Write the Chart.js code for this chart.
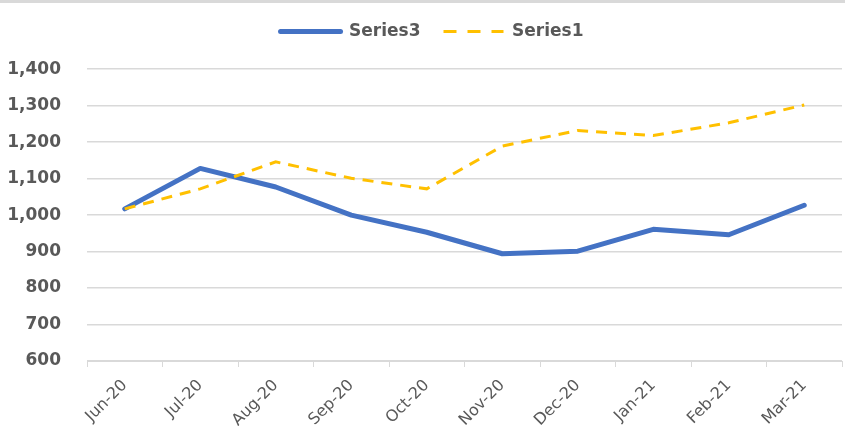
<!DOCTYPE html>
<html lang="en">
<head>
    <meta charset="UTF-8">
    <title>Series3 vs Series1</title>
    <style>
        body { margin: 0; background: #fff; }
        #wrap { position: relative; width: 845px; height: 426px; }
        #topBorder { position: absolute; left: 0; top: 0; width: 845px; height: 3px; background: #d9d9d9; }
    </style>
</head>
<body>
    <div id="wrap">
        <canvas id="lineChart" width="845" height="426"></canvas>
        <div id="topBorder"></div>
    </div>
    <script src="https://cdn.jsdelivr.net/npm/chart.js"></script>
    <script>
        // Chart data
        const months = ['Jun-20', 'Jul-20', 'Aug-20', 'Sep-20', 'Oct-20', 'Nov-20', 'Dec-20', 'Jan-21', 'Feb-21', 'Mar-21'];
        const series3 = [1017, 1128, 1077, 1000, 953, 894, 901, 961, 946, 1027];
        const series1 = [1017, 1072, 1146, 1101, 1072, 1189, 1232, 1218, 1253, 1302];

        const textColor = '#595959';
        const gridColor = '#d9d9d9';

        // nudge the legend a little to the right, like the original
        const legendShift = {
            id: 'legendShift',
            afterLayout(chart) {
                chart.legend.left += 11;
                chart.legend.right += 11;
            }
        };

        // point-style legend items lose the dash, so put it back
        function makeLegendLabels(chart) {
            const items = Chart.defaults.plugins.legend.labels.generateLabels(chart);
            return items.map((item) => {
                const ds = chart.data.datasets[item.datasetIndex];
                item.lineDash = ds.borderDash ? [13, 11] : [];
                item.lineCap = ds.borderCapStyle || 'butt';
                item.lineWidth = ds.borderWidth;
                return item;
            });
        }

        const ctx = document.getElementById('lineChart').getContext('2d');
        const lineChart = new Chart(ctx, {
            type: 'line',
            data: {
                labels: months,
                datasets: [
                    {
                        label: 'Series3',
                        data: series3,
                        borderColor: '#4472C4',
                        backgroundColor: '#4472C4',
                        borderWidth: 5,
                        borderCapStyle: 'round',
                        borderJoinStyle: 'round',
                        pointRadius: 0,
                        pointStyle: 'line',
                        fill: false,
                        order: 1
                    },
                    {
                        label: 'Series1',
                        data: series1,
                        borderColor: '#FFC000',
                        backgroundColor: '#FFC000',
                        borderWidth: 3,
                        borderDash: [11, 8],
                        pointRadius: 0,
                        pointStyle: 'line',
                        fill: false,
                        order: 0
                    }
                ]
            },
            options: {
                responsive: false,
                animation: false,
                layout: { padding: { top: 0, right: 3, left: 0, bottom: 0 } },
                plugins: {
                    tooltip: { enabled: false },
                    legend: {
                        position: 'top',
                        weight: 3000,
                        labels: {
                            usePointStyle: true,
                            pointStyleWidth: 60,
                            padding: 23,
                            color: textColor,
                            font: { family: 'DejaVu Sans', size: 17, weight: 'bold' },
                            generateLabels: makeLegendLabels,
                            sort: (a, b) => a.datasetIndex - b.datasetIndex
                        }
                    },
                    // empty title used only as a spacer between legend and plot
                    title: {
                        display: true,
                        text: ' ',
                        font: { size: 1 },
                        padding: { top: 0, bottom: 18 }
                    }
                },
                scales: {
                    x: {
                        offset: true,
                        grid: {
                            offset: true,
                            drawOnChartArea: false,
                            drawTicks: true,
                            tickLength: 6,
                            color: gridColor
                        },
                        border: { display: true, color: gridColor, width: 1 },
                        ticks: {
                            color: textColor,
                            minRotation: 45,
                            maxRotation: 45,
                            padding: 9,
                            font: { family: 'DejaVu Sans', size: 16 }
                        },
                        afterFit: (scale) => { scale.height = 65; }
                    },
                    y: {
                        min: 600,
                        max: 1400,
                        grid: { color: gridColor, lineWidth: 1.5, drawTicks: false },
                        border: { display: false },
                        ticks: {
                            stepSize: 100,
                            padding: 26,
                            color: textColor,
                            font: { family: 'DejaVu Sans', size: 17, weight: 'bold' },
                            callback: (value) => value.toLocaleString('en-US')
                        },
                        afterFit: (scale) => { scale.width = 87; }
                    }
                }
            },
            plugins: [legendShift]
        });
    </script>
</body>
</html>
